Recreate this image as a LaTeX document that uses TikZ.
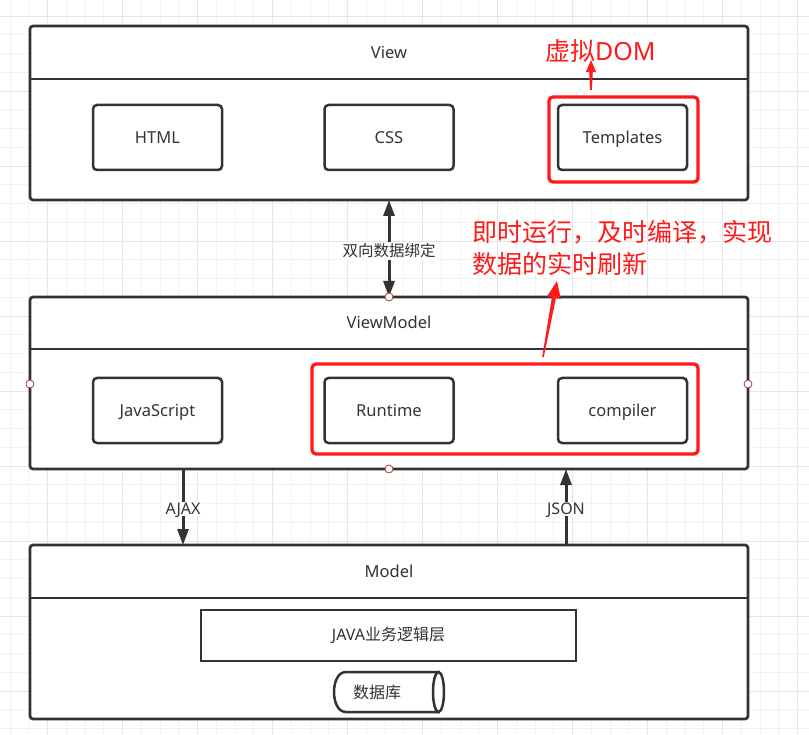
\documentclass[tikz,border=0pt]{standalone}
\usepackage{fontspec}
\setmainfont{Noto Sans}
\newfontfamily\cjk{Noto Sans CJK SC}
\usetikzlibrary{arrows.meta}
\definecolor{ink}{HTML}{333333}
\definecolor{redc}{HTML}{FF1A1A}
\definecolor{ptc}{HTML}{A33A3A}
\definecolor{gmin}{HTML}{F2F2F2}
\definecolor{gmaj}{HTML}{E6E6E6}
\begin{document}
\begin{tikzpicture}[x=1pt,y=-1pt,
  >={Triangle[length=16pt,width=11pt]},
  layer/.style={draw=ink,line width=2.7pt,rounded corners=3pt,fill=white,minimum width=718pt,inner sep=0pt,outer sep=0pt},
  item/.style={draw=ink,line width=2.5pt,rounded corners=4pt,fill=white,minimum width=129pt,minimum height=65pt,text=ink,font=\fontsize{16.5}{20}\selectfont,inner sep=0pt,text height=11.8pt,text depth=0pt},
  ttl/.style={text=ink,font=\fontsize{16.5}{20}\selectfont,inner sep=0pt,text height=11.8pt,text depth=0pt},
  hdr/.style={draw=ink,line width=2.7pt},
  redbox/.style={draw=redc,line width=3.3pt,rounded corners=4pt,inner sep=0pt},
  redtxt/.style={text=redc,font=\cjk\fontsize{25}{32}\selectfont,inner sep=0pt},
  conn/.style={draw=ink,line width=3pt},
  lbl/.style={fill=white,text=ink,inner sep=1.5pt},
  port/.style={circle,draw=ptc,fill=white,line width=0.8pt,minimum size=8pt,inner sep=0pt}
]
\useasboundingbox (0,0) rectangle (809,735);
\fill[white] (0,0) rectangle (809,735);
% grid
\foreach \k in {0,...,42}{
  \pgfmathsetmacro{\gx}{10+18.75*\k}
  \draw[gmin,line width=0.8pt] (\gx,0) -- (\gx,735);
}
\foreach \k in {0,...,38}{
  \pgfmathsetmacro{\gy}{16+18.75*\k}
  \draw[gmin,line width=0.8pt] (0,\gy) -- (809,\gy);
}
\foreach \k in {0,...,10}{
  \pgfmathsetmacro{\gx}{47.5+75*\k}
  \draw[gmaj,line width=0.8pt] (\gx,0) -- (\gx,735);
}
\foreach \k in {0,...,9}{
  \pgfmathsetmacro{\gy}{16+75*\k}
  \draw[gmaj,line width=0.8pt] (0,\gy) -- (809,\gy);
}

% ---------------- View layer
\node[layer,minimum height=174pt] (view) at (389,113) {};
\draw[hdr] (30,79) -- (748,79);
\node[ttl] (viewt) at (389,53) {View};
\node[item] (html) at (157.5,137.5) {HTML};
\node[item] (css) at (389,137.5) {CSS};
\node[item] (tpl) at (622.5,137.5) {Templates};
\node[redbox,minimum width=149pt,minimum height=85pt] (rb1) at (623.5,139.5) {};

% ---------------- ViewModel layer
\node[layer,minimum height=172pt] (vm) at (389,383) {};
\draw[hdr] (30,349) -- (748,349);
\node[ttl] (vmt) at (389,323) {ViewModel};
\node[item] (js) at (157.5,410.5) {JavaScript};
\node[item] (rt) at (389,410.5) {Runtime};
\node[item] (cp) at (622.5,410.5) {compiler};
\node[redbox,minimum width=386pt,minimum height=90pt] (rb2) at (505,409) {};

% ---------------- Model layer
\node[layer,minimum height=174pt] (model) at (389,632) {};
\draw[hdr] (30,598) -- (748,598);
\node[ttl] (modelt) at (389,572) {Model};
\node[draw=ink,line width=2.5pt,fill=white,minimum width=375pt,minimum height=51pt,inner sep=0pt,text=ink,font=\fontsize{16}{20}\selectfont] (java) at (388.5,635.5) {JAVA{\cjk 业务逻辑层}};
\draw[ink,line width=2.5pt,fill=white] (346,672) -- (438.5,672) -- (438.5,712) -- (346,712) .. controls (330,712) and (330,672) .. (346,672) -- cycle;
\draw[ink,line width=2.5pt,fill=white] (438.5,692) ellipse [x radius=5.5, y radius=20];
\node[text=ink,font=\cjk\fontsize{16}{20}\selectfont,inner sep=0pt] (db) at (377,692) {数据库};

% ---------------- connectors
\coordinate (ax) at (183,0);
\coordinate (jx) at (566,0);
\draw[conn,<->] (view.south) -- (vm.north);
\node[lbl,font=\cjk\fontsize{15.5}{19}\selectfont] (bind) at (389,251) {双向数据绑定};
\draw[conn,->] (vm.south -| ax) -- (model.north -| ax);
\node[lbl,font=\fontsize{16}{19}\selectfont,text height=11.5pt,text depth=0pt] (ajax) at (183,509) {AJAX};
\draw[conn,->] (model.north -| jx) -- (vm.south -| jx);
\node[lbl,font=\fontsize{16}{19}\selectfont,text height=11.5pt,text depth=0pt] (json) at (566,509) {JSON};

% ports
\node[port] (p1) at (vm.north) {};
\node[port] (p2) at (30,384) {};
\node[port] (p3) at (748,384) {};
\node[port] (p4) at (vm.south) {};

% ---------------- red annotations
\node[redtxt,anchor=base west] (dom) at (545,61) {虚拟{\fontspec{Noto Sans}DOM}};
\fill[redc] (591,60) -- (596.3,72.5) -- (592.8,71.5) -- (591.9,90) -- (590.1,90) -- (589.2,71.5) -- (585.7,72.5) -- cycle;
\node[redtxt,anchor=base west] (rt1) at (472,242) {即时运行，及时编译，实现};
\node[redtxt,anchor=base west] (rt2) at (472,274) {数据的实时刷新};
\fill[redc] (557,281) -- (560.8,299.0) -- (555.9,298.1) -- (543.8,357.1) -- (542.2,356.9) -- (551.9,297.3) -- (547.0,296.4) -- cycle;
\end{tikzpicture}
\end{document}
